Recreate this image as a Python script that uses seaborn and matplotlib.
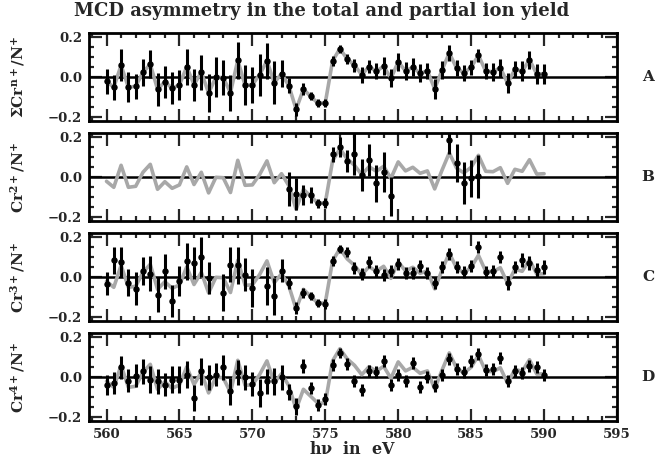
import numpy as np
import pandas as pd
import matplotlib
matplotlib.use("Agg")
import matplotlib.pyplot as plt
import seaborn as sns
from matplotlib.ticker import MultipleLocator, FixedLocator, FuncFormatter

# ---------------- data ----------------
energy = [560.0, 560.5, 561.0, 561.5, 562.0, 562.5, 563.0, 563.5, 564.0, 564.5,
          565.0, 565.5, 566.0, 566.5, 567.0, 567.5, 568.0, 568.5, 569.0, 569.5,
          570.0, 570.5, 571.0, 571.5, 572.0, 572.5, 573.0, 573.5, 574.0, 574.5,
          575.0, 575.5, 576.0, 576.5, 577.0, 577.5, 578.0, 578.5, 579.0, 579.5,
          580.0, 580.5, 581.0, 581.5, 582.0, 582.5, 583.0, 583.5, 584.0, 584.5,
          585.0, 585.5, 586.0, 586.5, 587.0, 587.5, 588.0, 588.5, 589.0, 589.5,
          590.0]

# total ion yield asymmetry (grey line in every panel, points in panel A)
total = [-0.020, -0.050, 0.060, -0.050, -0.045, 0.025, 0.065, -0.060, -0.022, -0.055,
         -0.038, 0.052, -0.036, 0.025, -0.078, 0.000, -0.002, -0.076, 0.085, -0.040,
         -0.038, 0.014, 0.082, -0.027, 0.018, -0.042, -0.160, -0.060, -0.095, -0.130,
         -0.128, 0.082, 0.143, 0.092, 0.060, 0.013, 0.053, 0.030, 0.055, -0.005,
         0.077, 0.032, 0.050, 0.020, 0.032, -0.058, 0.035, 0.122, 0.046, 0.022,
         0.050, 0.110, 0.030, 0.028, 0.048, -0.030, 0.040, 0.030, 0.088, 0.016,
         0.018]
total_err = [0.064, 0.063, 0.080, 0.075, 0.063, 0.067, 0.070, 0.083, 0.080, 0.080,
             0.075, 0.090, 0.080, 0.088, 0.095, 0.100, 0.088, 0.090, 0.092, 0.100,
             0.088, 0.105, 0.092, 0.108, 0.067, 0.038, 0.033, 0.030, 0.020, 0.020,
             0.020, 0.025, 0.020, 0.025, 0.033, 0.040, 0.033, 0.040, 0.045, 0.045,
             0.045, 0.045, 0.045, 0.045, 0.040, 0.050, 0.045, 0.038, 0.040, 0.040,
             0.038, 0.033, 0.040, 0.045, 0.045, 0.050, 0.040, 0.050, 0.045, 0.050,
             0.050]

nan = np.nan
cr2 = [nan, nan, nan, nan, nan, nan, nan, nan, nan, nan,
       nan, nan, nan, nan, nan, nan, nan, nan, nan, nan,
       nan, nan, nan, nan, nan, -0.058, -0.085, -0.090, -0.090, -0.130,
       -0.127, 0.115, 0.150, 0.082, 0.118, 0.012, 0.085, -0.030, 0.027, -0.095,
       nan, nan, nan, nan, nan, nan, nan, 0.185, 0.072, -0.030,
       -0.005, 0.005, nan, nan, nan, nan, nan, nan, nan, nan,
       nan]
cr2_err = [nan, nan, nan, nan, nan, nan, nan, nan, nan, nan,
           nan, nan, nan, nan, nan, nan, nan, nan, nan, nan,
           nan, nan, nan, nan, nan, 0.087, 0.080, 0.050, 0.040, 0.022,
           0.025, 0.037, 0.050, 0.055, 0.105, 0.080, 0.080, 0.092, 0.100, 0.096,
           nan, nan, nan, nan, nan, nan, nan, 0.067, 0.096, 0.105,
           0.092, 0.108, nan, nan, nan, nan, nan, nan, nan, nan,
           nan]

cr3 = [-0.033, 0.085, 0.075, -0.028, -0.057, 0.030, 0.018, -0.087, 0.030, -0.120,
       -0.020, 0.080, 0.072, 0.100, -0.003, nan, -0.078, 0.063, 0.060, 0.013,
       -0.053, nan, -0.045, -0.095, 0.033, -0.028, -0.153, -0.078, -0.095, -0.128,
       -0.133, 0.080, 0.143, 0.125, 0.047, 0.017, 0.075, 0.030, 0.013, 0.030,
       0.067, 0.022, 0.022, 0.055, 0.022, -0.028, 0.050, 0.117, 0.050, 0.025,
       0.055, 0.150, 0.025, 0.030, 0.100, -0.028, 0.050, 0.088, 0.072, 0.038,
       0.050]
cr3_err = [0.058, 0.067, 0.075, 0.067, 0.083, 0.070, 0.088, 0.088, 0.088, 0.080,
           0.075, 0.092, 0.080, 0.100, 0.080, nan, 0.092, 0.088, 0.092, 0.083,
           0.096, nan, 0.096, 0.092, 0.058, 0.030, 0.030, 0.025, 0.020, 0.020,
           0.025, 0.025, 0.020, 0.025, 0.030, 0.030, 0.030, 0.030, 0.030, 0.030,
           0.030, 0.030, 0.030, 0.030, 0.030, 0.030, 0.030, 0.030, 0.030, 0.030,
           0.030, 0.030, 0.030, 0.030, 0.030, 0.035, 0.030, 0.035, 0.035, 0.035,
           0.035]

cr4 = [-0.037, -0.028, 0.050, -0.017, 0.008, 0.030, -0.012, -0.020, -0.037, -0.012,
       -0.012, 0.013, -0.103, 0.030, 0.000, 0.013, 0.050, -0.070, 0.025, 0.000,
       -0.033, -0.078, -0.020, -0.020, 0.000, -0.073, -0.145, 0.055, -0.053, -0.140,
       -0.107, 0.063, 0.120, 0.067, -0.017, -0.062, 0.030, 0.025, 0.080, -0.037,
       0.013, -0.020, 0.072, -0.050, 0.000, -0.045, 0.013, 0.093, 0.042, 0.025,
       0.080, 0.117, 0.038, 0.042, 0.097, -0.017, 0.030, 0.022, 0.055, 0.050,
       0.013]
cr4_err = [0.050, 0.055, 0.058, 0.058, 0.058, 0.062, 0.067, 0.062, 0.058, 0.067,
           0.067, 0.067, 0.067, 0.067, 0.062, 0.058, 0.062, 0.067, 0.062, 0.062,
           0.062, 0.070, 0.062, 0.067, 0.062, 0.040, 0.042, 0.035, 0.030, 0.030,
           0.030, 0.030, 0.025, 0.030, 0.030, 0.030, 0.030, 0.030, 0.030, 0.030,
           0.030, 0.030, 0.030, 0.030, 0.030, 0.030, 0.030, 0.030, 0.030, 0.030,
           0.030, 0.030, 0.030, 0.030, 0.030, 0.030, 0.030, 0.030, 0.030, 0.030,
           0.030]

ylabels = [r"$\Sigma Cr^{n+}/N^{+}$", r"$Cr^{2+}/N^{+}$", r"$Cr^{3+}/N^{+}$", r"$Cr^{4+}/N^{+}$"]
panel_tags = ["A", "B", "C", "D"]
title_text = "MCD asymmetry in the total and partial ion yield"
xlabel_text = r"h$\nu$  in  eV"

# ---------------- style ----------------
sns.set_style("ticks")
plt.rcParams.update({
    "font.family": ["DejaVu Serif"],
    "font.weight": "bold",
    "mathtext.fontset": "dejavuserif",
    "mathtext.default": "bf",
    "axes.linewidth": 2.0,
    "axes.edgecolor": "black",
})

df = pd.DataFrame({"energy": energy, "total": total, "total_err": total_err,
                   "cr2": cr2, "cr2_err": cr2_err, "cr3": cr3, "cr3_err": cr3_err,
                   "cr4": cr4, "cr4_err": cr4_err})

W, H = 656, 470
fig = plt.figure(figsize=(W / 100, H / 100), dpi=100)

series = [("total", "total_err"), ("cr2", "cr2_err"), ("cr3", "cr3_err"), ("cr4", "cr4_err")]
zero_px = [77.3, 177.3, 277.3, 377.3]
half_px = 44.0
left_px, right_px = 89.0, 617.0

minus_fmt = FuncFormatter(lambda v, p: ("%.1f" % v).replace("-", "\u2212"))

for i, ((ycol, ecol), zp) in enumerate(zip(series, zero_px)):
    rect = [left_px / W, 1 - (zp + half_px) / H, (right_px - left_px) / W, 2 * half_px / H]
    ax = fig.add_axes(rect)
    ax.axhline(0, color="black", lw=1.8, zorder=1)
    sns.lineplot(data=df, x="energy", y="total", color="#a8a8a8", lw=2.6,
                 ax=ax, zorder=2, estimator=None, sort=False)
    ax.errorbar(df["energy"], df[ycol], yerr=df[ecol], fmt="o", color="black",
                ms=3.6, elinewidth=2.2, capsize=0, zorder=3)
    ax.set_xlim(558.8, 595)
    ax.set_ylim(-0.22, 0.22)
    ax.xaxis.set_major_locator(MultipleLocator(5))
    ax.xaxis.set_minor_locator(MultipleLocator(1))
    ax.yaxis.set_major_locator(FixedLocator([-0.2, 0.0, 0.2]))
    ax.yaxis.set_minor_locator(MultipleLocator(0.05))
    ax.yaxis.set_major_formatter(minus_fmt)
    ax.tick_params(which="both", direction="in", top=True, right=True, width=1.6,
                   labelsize=9.5, pad=5)
    ax.tick_params(which="major", length=9)
    ax.tick_params(which="minor", length=3.6)
    for lab in ax.get_yticklabels():
        lab.set_fontweight("bold")
    ax.set_ylabel(ylabels[i], fontsize=11)
    ax.yaxis.set_label_coords(-0.118, 0.5)
    if i < 3:
        ax.set_xlabel("")
        ax.tick_params(axis="x", labelbottom=False)
    else:
        ax.set_xlabel(xlabel_text, fontsize=11.5, fontweight="bold", labelpad=0)
        for lab in ax.get_xticklabels():
            lab.set_fontweight("bold")
    fig.text(648 / W, 1 - zp / H, panel_tags[i], ha="center", va="center",
             fontsize=11, fontweight="bold")

fig.text(0.49, 1 - 11 / H, title_text, ha="center", va="center",
         fontsize=13, fontweight="bold")

fig.savefig("out.png", dpi=100)
